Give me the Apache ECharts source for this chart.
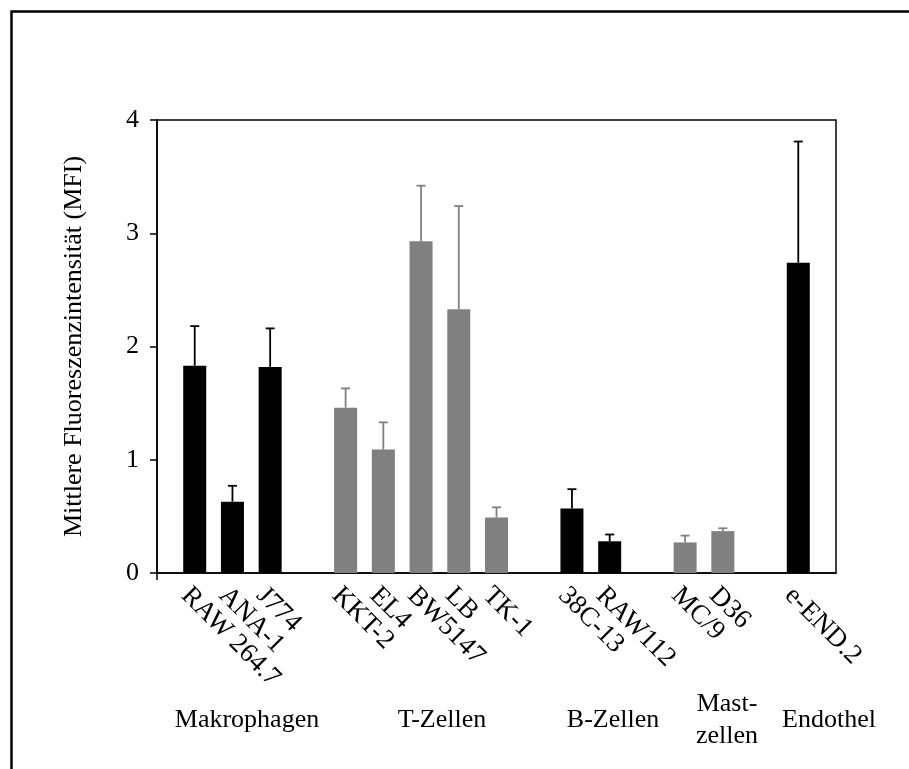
<!DOCTYPE html>
<html>
<head>
<meta charset="utf-8">
<script src="https://cdn.jsdelivr.net/npm/echarts@6/dist/echarts.min.js"></script>
<style>
  html, body { margin: 0; padding: 0; background: #fff; }
  #chart { width: 909px; height: 769px; }
</style>
</head>
<body>
<div id="chart"></div>
<script>
// Cell lines on the x axis; empty strings are the spacer slots between groups
const cellLines = ['', 'RAW 264.7', 'ANA-1', 'J774', '', 'KKT-2', 'EL4', 'BW5147', 'LB', 'TK-1', '',
                   '38C-13', 'RAW112', '', 'MC/9', 'D36', '', 'e-END.2', ''];
// Mean fluorescence intensity (null for spacer slots)
const mfiMean = [null, 1.83, 0.63, 1.82, null, 1.46, 1.09, 2.93, 2.33, 0.49, null,
                 0.57, 0.28, null, 0.27, 0.37, null, 2.74, null];
// Upper error (standard deviation)
const mfiError = [null, 0.35, 0.14, 0.34, null, 0.17, 0.24, 0.49, 0.91, 0.09, null,
                  0.17, 0.06, null, 0.06, 0.025, null, 1.07, null];
// Cell type per slot: 'k' = black group, 'g' = grey group
const cellShade = ['', 'k', 'k', 'k', '', 'g', 'g', 'g', 'g', 'g', '',
                   'k', 'k', '', 'g', 'g', '', 'k', ''];
// Group captions below the axis labels
const groupNames = ['Makrophagen', 'T-Zellen', 'B-Zellen', 'Mast-\nzellen', 'Endothel'];
const groupCenters = [247, 442, 613, 727, 829];
// Y axis ticks
const yTicks = { min: 0, max: 4, interval: 1 };

const FONT = '"Liberation Serif", "Times New Roman", serif';
const shadeColor = { k: '#000000', g: '#808080' };

const barData = mfiMean.map((v, i) => v == null ? null : {
  value: v,
  itemStyle: { color: shadeColor[cellShade[i]] }
});
const errData = [];
mfiMean.forEach((v, i) => {
  if (v != null) errData.push([i, v, v + mfiError[i], cellShade[i] === 'k' ? 0 : 1]);
});

const chart = echarts.init(document.getElementById('chart'));
chart.setOption({
  animation: false,
  backgroundColor: '#fff',
  grid: {
    left: 157, right: 73, top: 120, bottom: 196,
    show: true, borderColor: '#000', borderWidth: 1.5, backgroundColor: 'transparent'
  },
  xAxis: {
    type: 'category',
    data: cellLines,
    boundaryGap: false,
    axisLine: { lineStyle: { color: '#000', width: 1.5 } },
    axisTick: { show: true, interval: (i) => i === 0, length: 7, lineStyle: { color: '#000', width: 1.5 } },
    axisLabel: {
      interval: 0, rotate: -45, align: 'left', verticalAlign: 'top', margin: 9,
      fontFamily: FONT, fontSize: 27, color: '#000'
    },
    splitLine: { show: false }
  },
  yAxis: {
    type: 'value',
    min: yTicks.min, max: yTicks.max, interval: yTicks.interval,
    name: 'Mittlere Fluoreszenzintensität (MFI)',
    nameLocation: 'middle', nameGap: 70,
    nameTextStyle: { fontFamily: FONT, fontSize: 26, color: '#000' },
    axisLine: { show: true, lineStyle: { color: '#000', width: 1.5 } },
    axisTick: { show: true, inside: false, length: 7, lineStyle: { color: '#000', width: 1.5 } },
    axisLabel: { margin: 18, fontFamily: FONT, fontSize: 26, color: '#000' },
    splitLine: { show: false }
  },
  series: [
    {
      type: 'bar',
      data: barData,
      barWidth: 23,
      z: 2
    },
    {
      type: 'custom',
      data: errData,
      z: 3,
      encode: { x: 0, y: [1, 2] },
      renderItem: function (params, api) {
        const lo = api.coord([api.value(0), api.value(1)]);
        const hi = api.coord([api.value(0), api.value(2)]);
        const col = api.value(3) === 0 ? '#000000' : '#808080';
        const style = { stroke: col, lineWidth: 1.8, fill: null };
        return {
          type: 'group',
          children: [
            { type: 'line', shape: { x1: lo[0], y1: lo[1], x2: hi[0], y2: hi[1] }, style: style },
            { type: 'line', shape: { x1: hi[0] - 4.5, y1: hi[1], x2: hi[0] + 4.5, y2: hi[1] }, style: style }
          ]
        };
      }
    }
  ],
  graphic: [
    {
      type: 'rect', left: 9, top: 9, silent: true,
      shape: { width: 930, height: 800 },
      style: { fill: null, stroke: '#000', lineWidth: 2.5 }
    }
  ].concat(groupNames.map((name, i) => ({
    type: 'text',
    x: groupCenters[i], y: 720,
    style: {
      text: name, fill: '#000', font: '26px ' + FONT,
      textAlign: 'center', textVerticalAlign: 'middle', lineHeight: 32
    }
  })))
});
</script>
</body>
</html>
